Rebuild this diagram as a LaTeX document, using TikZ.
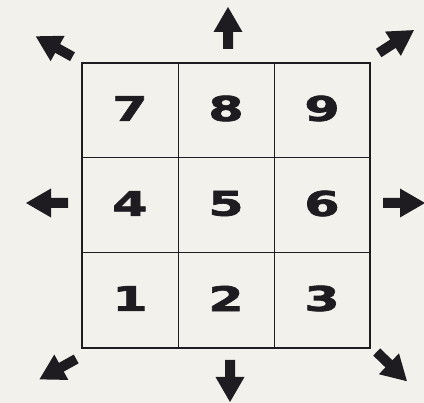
\documentclass[tikz,border=0pt]{standalone}
\usepackage{fontspec}
\usepackage{xcolor}
\usepackage{tikz}
\newfontfamily\kpfont{DejaVu Sans Bold}[FakeStretch=1.5,FakeBold=2]
\definecolor{kppaper}{RGB}{243,241,235}
\definecolor{kpink}{RGB}{30,27,33}
\tikzset{
  kpdigit/.style={font=\kpfont\fontsize{34}{34}\selectfont,text=kpink,inner sep=0pt},
  kpline/.style={draw=kpink,line width=1pt},
  kpframe/.style={draw=kpink,line width=1.8pt},
  pics/kparrow/.style={code={
    \fill[kpink] (0,-5) -- (17,-5) -- (17,-14.5) -- (42,0) -- (17,14.5) -- (17,5) -- (0,5) -- cycle;}},
}

\begin{document}
\begin{tikzpicture}[x=1pt,y=-1pt]
\fill[kppaper] (0,0) rectangle (424,403);
\useasboundingbox (0,0) rectangle (424,403);
\draw[kpline] (178,63) -- (178,348);
\draw[kpline] (274,63) -- (274,348);
\draw[kpline] (82,158) -- (370,158);
\draw[kpline] (82,253) -- (370,253);
\draw[kpframe] (82,63) rectangle (370,348);
\node[kpdigit] (d7) at (130,108.5) {7};
\node[kpdigit] (d8) at (226,108.5) {8};
\node[kpdigit] (d9) at (322,108.5) {9};
\node[kpdigit] (d4) at (130,203.5) {4};
\node[kpdigit] (d5) at (226,203.5) {5};
\node[kpdigit] (d6) at (322,203.5) {6};
\node[kpdigit] (d1) at (130,298.5) {1};
\node[kpdigit] (d2) at (226,298.5) {2};
\node[kpdigit] (d3) at (322,298.5) {3};
\pic[rotate=90] at (228,49) {kparrow};
\pic[rotate=-90] at (230,360) {kparrow};
\pic[rotate=180] at (68,203) {kparrow};
\pic[rotate=0] at (383,203) {kparrow};
\pic[rotate=151] at (72.5,56.7) {kparrow};
\pic[rotate=33] at (378.7,53) {kparrow};
\pic[rotate=209] at (76.2,359) {kparrow};
\pic[rotate=-44] at (376.7,352) {kparrow};
\end{tikzpicture}
\end{document}
